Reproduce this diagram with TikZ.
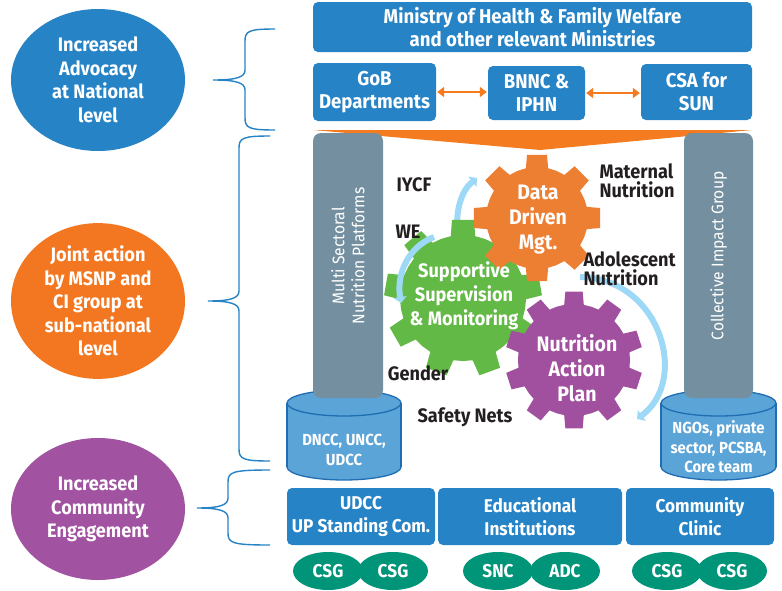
\documentclass[tikz,border=0pt]{standalone}
\usepackage{fontspec}
\setmainfont{Fira Sans}[FakeStretch=0.93]
\usetikzlibrary{shapes.geometric, arrows.meta, positioning}
\definecolor{mohblue}{HTML}{2683C6}
\definecolor{goalorange}{HTML}{F37721}
\definecolor{goalpurple}{HTML}{A152A0}
\definecolor{funnelorange}{HTML}{F47B20}
\definecolor{cogorange}{HTML}{ED7F33}
\definecolor{coggreen}{HTML}{63B945}
\definecolor{cogpurple}{HTML}{A0509E}
\definecolor{pillargray}{HTML}{7490A0}
\definecolor{cylfill}{HTML}{5BA4D8}
\definecolor{cylline}{HTML}{1F6DB3}
\definecolor{csgteal}{HTML}{009479}
\definecolor{cyclearrow}{HTML}{9DD9F6}
\definecolor{labeldark}{HTML}{231F20}

% gear: fill colour, centre, teeth, inner radius, outer radius, turn
\newcommand{\cogwheel}[6]{%
  \pgfmathsetmacro{\cogpitch}{360/#3}
  \begin{scope}[shift={#2}]
  \fill[#1] (#6:#4)
    \foreach \k in {1,...,#3}{
      -- ({#6+(\k-1+0.22)*\cogpitch}:#4)
      -- ({#6+(\k-1+0.3)*\cogpitch}:#5)
      -- ({#6+(\k-1+0.7)*\cogpitch}:#5)
      -- ({#6+(\k-1+0.78)*\cogpitch}:#4)
      -- ({#6+\k*\cogpitch}:#4)} -- cycle;
  \end{scope}}

% brace: end x, spine x, tip x, top y, tip y, bottom y
\newcommand{\levelbrace}[6]{%
  \draw[bracepen] (#1,#4) .. controls ({#2+4},#4) and (#2,{#4+2}) .. (#2,{#4+12})
    -- (#2,{#5-10}) .. controls (#2,{#5-3}) and ({#2-8},#5) .. (#3,#5)
    .. controls ({#2-8},#5) and (#2,{#5+3}) .. (#2,{#5+10})
    -- (#2,{#6-12}) .. controls (#2,{#6-2}) and ({#2+4},#6) .. (#1,#6);}

\tikzset{
  bracepen/.style={draw=mohblue, line width=1.4pt},
  goal/.style={ellipse, fill=#1, text=white, inner sep=0pt,
    minimum width=174pt, minimum height=142pt, align=center,
    font=\bfseries\fontsize{19.5}{23.5}\selectfont},
  bluebox/.style={fill=mohblue, rounded corners=5pt, inner sep=0pt, text=white,
    align=center, font=\bfseries\fontsize{20}{23}\selectfont},
  basebox/.style={bluebox, minimum height=57pt, font=\bfseries\fontsize{18.5}{23}\selectfont},
  twoway/.style={{Triangle[length=7pt,width=10pt]}-{Triangle[length=7pt,width=10pt]},
    draw=funnelorange, line width=2.6pt, shorten <=1pt, shorten >=1pt},
  pillar/.style={fill=pillargray, rounded corners=8pt, inner sep=0pt},
  pillartext/.style={text=white, rotate=90, align=center,
    font=\fontsize{16.8}{20}\selectfont},
  cyl/.style={fill=cylfill, draw=cylline, line width=1.3pt},
  cyltext/.style={text=white, align=center, font=\bfseries\fontsize{16}{19.5}\selectfont},
  cogtext/.style={text=white, align=center, font=\bfseries\fontsize{21}{25}\selectfont},
  topic/.style={text=labeldark, align=left, font=\bfseries\fontsize{19.5}{19}\selectfont},
  cycle/.style={draw=cyclearrow, line width=6pt, -{Triangle[length=6pt,width=13pt]}},
  csg/.style={ellipse, fill=csgteal, text=white, inner sep=0pt,
    minimum width=70pt, minimum height=38pt, font=\bfseries\fontsize{18.5}{22}\selectfont}
}

\begin{document}
\begin{tikzpicture}[x=1pt, y=-1pt]
  \useasboundingbox (0,0) rectangle (782,590);

  % Braces
  \levelbrace{275}{245}{213}{29}{80}{130}
  \levelbrace{270}{239}{208}{136}{301}{461}
  \levelbrace{270}{228}{197}{470}{508}{545}

  % Goals
  \node[goal=mohblue] (advocacy) at (98,80) {Increased\\Advocacy\\at National\\level};
  \node[goal=goalorange] (joint) at (98,301) {Joint action\\by MSNP and\\CI group at\\sub-national\\level};
  \node[goal=goalpurple] (community) at (98,509) {Increased\\Community\\Engagement};

  % National level
  \node[bluebox, minimum width=439pt, minimum height=50pt] (ministry) at (532.5,27)
    {Ministry of Health \& Family Welfare\\and other relevant Ministries};
  \node[bluebox, minimum width=123pt, minimum height=58pt] (gob) at (374.5,92) {GoB\\Departments};
  \node[bluebox, minimum width=97pt, minimum height=54pt] (bnnc) at (536.5,93) {BNNC \&\\IPHN};
  \node[bluebox, minimum width=111pt, minimum height=56pt] (csa) at (696.5,92) {CSA for\\SUN};
  \draw[twoway] (gob.east) -- (gob.east -| bnnc.west);
  \draw[twoway] (bnnc.east) -- (bnnc.east -| csa.west);

  % Funnel
  \fill[funnelorange] (313,130) -- (752,130) -- (540,150) -- cycle;

  % Cylinders
  \filldraw[cyl] (344,467) ellipse [x radius=57, y radius=13];
  \fill[cylfill] (287,403) rectangle (401,467);
  \draw[cyl] (287,403) -- (287,467) (401,403) -- (401,467);
  \filldraw[cyl] (344,403) ellipse [x radius=57, y radius=13];
  \filldraw[cyl] (718.5,467) ellipse [x radius=57.5, y radius=13];
  \fill[cylfill] (661,403) rectangle (776,467);
  \draw[cyl] (661,403) -- (661,467) (776,403) -- (776,467);
  \filldraw[cyl] (718.5,403) ellipse [x radius=57.5, y radius=13];
  \node[cyltext] (dncc) at (344,450) {DNCC, UNCC,\\UDCC};
  \node[cyltext] (ngos) at (718.5,447) {NGOs, private\\sector, PCSBA,\\Core team};

  % Pillars
  \node[pillar, minimum width=70pt, minimum height=265pt] (msnp) at (348,265.5) {};
  \node[pillar, minimum width=69pt, minimum height=265pt] (cig) at (718.5,265.5) {};
  \node[pillartext] at (348,256) {Multi Sectoral\\Nutrition Platforms};
  \node[pillartext] at (718.5,256) {Collective Impact Group};

  % Gears
  \draw[cycle] (458,242) .. controls (454,210) and (462,190) .. (477,178);
  \cogwheel{coggreen}{(463,298)}{9}{63}{79}{250}
  \cogwheel{cogorange}{(537,218)}{8}{51}{64}{247.5}
  \cogwheel{cogpurple}{(574,360)}{10}{56}{69}{252}
  \draw[cycle] (434,237) .. controls (410,246) and (396,272) .. (401,303);
  \draw[cycle] (580,277) .. controls (660,278) and (690,380) .. (637,419);
  \node[cogtext] (data) at (538,220) {Data\\Driven\\Mgt.};
  \node[cogtext, font=\bfseries\fontsize{19.5}{24}\selectfont] (supervision) at (464,296)
    {Supportive\\Supervision\\\& Monitoring};
  \node[cogtext] (plan) at (577,368) {Nutrition\\Action\\Plan};

  % Topics
  \node[topic] (iycf) at (414,185) {IYCF};
  \node[topic] (we) at (408,232) {WE};
  \node[topic, anchor=west] (maternal) at (596,181) {Maternal\\Nutrition};
  \node[topic, anchor=west] (adolescent) at (580,269) {Adolescent\\Nutrition};
  \node[topic] (gender) at (418,373) {Gender};
  \node[topic] (safety) at (465,417) {Safety Nets};

  % Community level
  \node[basebox, minimum width=148pt] (udcc) at (361,516.5) {UDCC\\UP Standing Com.};
  \node[basebox, minimum width=184pt] (edu) at (530,516.5) {Educational\\Institutions};
  \node[basebox, minimum width=148pt] (clinic) at (700,516.5) {Community\\Clinic};
  \node[csg] (csga) at (328,571) {CSG};
  \node[csg] (csgb) at (393,571) {CSG};
  \node[csg] (snc) at (498,571) {SNC};
  \node[csg] (adc) at (565,571) {ADC};
  \node[csg] (csgc) at (667,571) {CSG};
  \node[csg] (csgd) at (732,571) {CSG};
\end{tikzpicture}
\end{document}
